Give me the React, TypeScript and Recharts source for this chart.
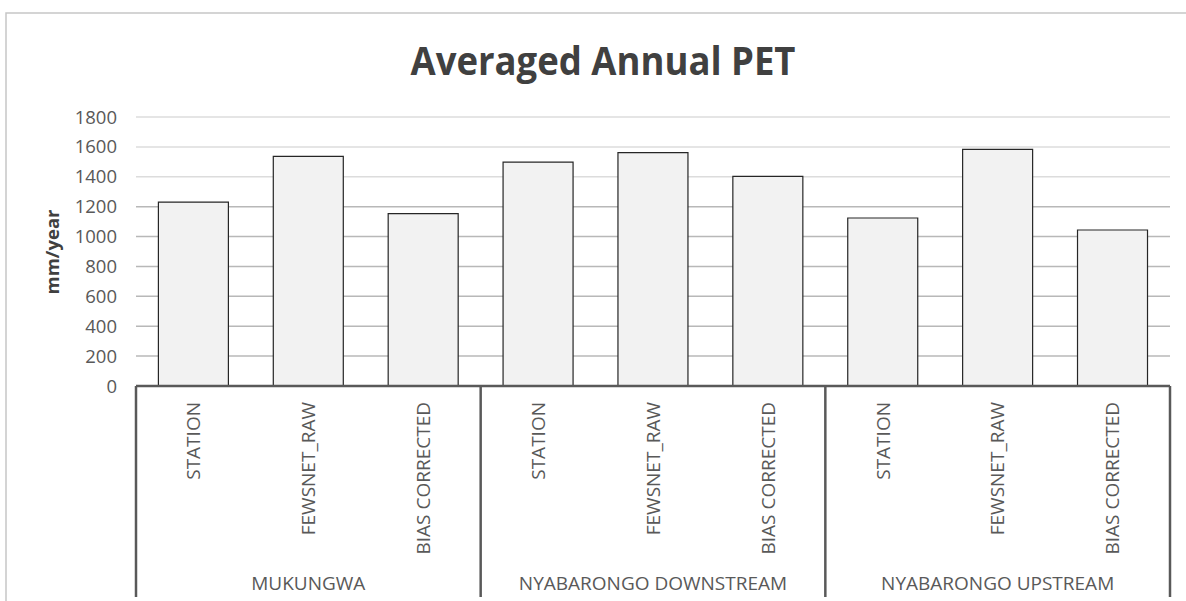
import React from 'react'
import { BarChart, Bar, XAxis, YAxis, CartesianGrid } from 'recharts'

const W = 1186
const H = 601
const FONT = '"Open Sans", "DejaVu Sans", sans-serif'
const TEXT = '#595959'

// catchment groups and the three PET sources inside each one
const catchments = ['MUKUNGWA', 'NYABARONGO DOWNSTREAM', 'NYABARONGO UPSTREAM']
const sources = ['STATION', 'FEWSNET_RAW', 'BIAS CORRECTED']

// averaged annual PET, mm/year (station, fewsnet raw, bias corrected)
const mukungwaPet = [1231, 1536, 1154]
const nyabarongoDownPet = [1498, 1561, 1403]
const nyabarongoUpPet = [1124, 1583, 1044]

const yTicks = [0, 200, 400, 600, 800, 1000, 1200, 1400, 1600, 1800]

const petByCatchment = [mukungwaPet, nyabarongoDownPet, nyabarongoUpPet]

const rows = catchments.flatMap((c, ci) =>
  sources.map((s, si) => ({
    key: `${ci}-${si}`,
    source: s,
    catchment: c,
    pet: petByCatchment[ci][si],
  }))
)

const MARGIN = { top: 117, right: 16, bottom: 0, left: 0 }
const Y_AXIS_W = 136
const BAND = (W - MARGIN.left - MARGIN.right - Y_AXIS_W) / rows.length

// grid lines: the lower ones come out a shade darker
function GridLine(props: any) {
  const { x1, x2, y1, y2, index } = props
  const dark = yTicks[index] !== undefined && yTicks[index] <= 1200
  return <line x1={x1} x2={x2} y1={y1} y2={y2} stroke={dark ? '#b8b8b8' : '#dcdcdc'} strokeWidth={1.5} />
}

// two-level category axis: rotated source name, catchment name under each group,
// and the separators between groups
function GroupedTick(props: any) {
  const { x, y, payload } = props
  const i = payload.index as number
  const row = rows[i]
  const bottom = H - 4
  return (
    <g>
      <text
        x={x}
        y={y + 16}
        transform={`rotate(-90 ${x} ${y + 16})`}
        textAnchor="end"
        dy="0.355em"
        fill={TEXT}
        fontSize={19}
        fontFamily={FONT}
      >
        {row.source}
      </text>
      {i % 3 === 1 && (
        <text x={x} y={y + 197} dy="0.355em" textAnchor="middle" fill={TEXT} fontSize={19} fontFamily={FONT}>
          {row.catchment}
        </text>
      )}
      {i % 3 === 0 && (
        <line x1={x - BAND / 2} x2={x - BAND / 2} y1={y} y2={bottom} stroke="#595959" strokeWidth={2.5} />
      )}
      {i === rows.length - 1 && (
        <line x1={x + BAND / 2} x2={x + BAND / 2} y1={y} y2={bottom} stroke="#595959" strokeWidth={2.5} />
      )}
    </g>
  )
}

export default function App() {
  return (
    <div style={{ position: 'absolute', left: 0, top: 0, width: W, height: H, background: '#fff', overflow: 'hidden' }}>
      <BarChart width={W} height={H} data={rows} margin={MARGIN} barCategoryGap="19.5%">
        <CartesianGrid vertical={false} horizontal={(p: any) => <GridLine {...p} />} />
        <YAxis
          width={Y_AXIS_W}
          domain={[0, 1800]}
          ticks={yTicks}
          axisLine={false}
          tickLine={false}
          tickSize={0}
          tickMargin={19}
          tick={{ fill: TEXT, fontSize: 18.5, fontFamily: FONT }}
        />
        <XAxis
          dataKey="key"
          height={H - MARGIN.top - 269}
          interval={0}
          tickLine={false}
          tickSize={0}
          tickMargin={0}
          axisLine={{ stroke: '#595959', strokeWidth: 2.5 }}
          tick={<GroupedTick />}
        />
        <Bar dataKey="pet" fill="#f2f2f2" stroke="#262626" strokeWidth={1.2} isAnimationActive={false} />
      </BarChart>
      <svg width={W} height={H} style={{ position: 'absolute', left: 0, top: 0, pointerEvents: 'none' }}>
        <polyline points={`6,${H + 2} 6,13 ${W + 2},13`} fill="none" stroke="#c6c6c6" strokeWidth={1.5} />
        <text
          x={603}
          y={75}
          textAnchor="middle"
          fill="#404040"
          fontSize={40}
          fontWeight={700}
          fontFamily={FONT}
          textLength={385}
          lengthAdjust="spacingAndGlyphs"
        >
          Averaged Annual PET
        </text>
        <text
          x={52}
          y={252}
          transform="rotate(-90 52 252)"
          textAnchor="middle"
          dy="0.355em"
          fill="#404040"
          fontSize={18.5}
          fontWeight={700}
          fontFamily={FONT}
        >
          mm/year
        </text>
      </svg>
    </div>
  )
}
